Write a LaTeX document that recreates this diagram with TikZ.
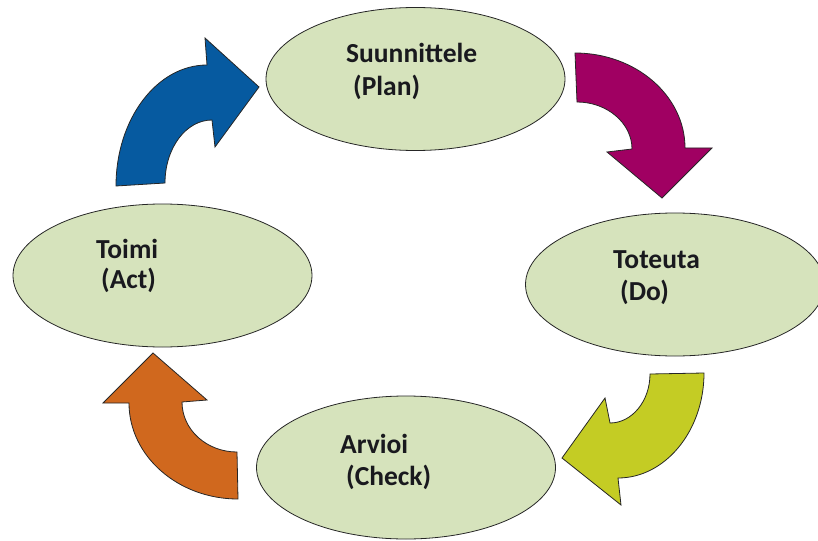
\documentclass[tikz,border=0pt]{standalone}
\usepackage{fontspec}
\setmainfont{Carlito}
\usetikzlibrary{shapes.geometric}
\definecolor{ellfill}{RGB}{214,227,188}
\definecolor{cblue}{RGB}{6,90,160}
\definecolor{cmag}{RGB}{160,0,98}
\definecolor{cyel}{RGB}{196,204,36}
\definecolor{corange}{RGB}{208,104,30}
\definecolor{txt}{RGB}{25,25,30}
\tikzset{
  ell/.style={ellipse, draw=black!85, line width=0.8pt, fill=ellfill, minimum width=299pt, minimum height=143pt, inner sep=0pt},
  lbl/.style={anchor=base west, inner sep=0pt, text=txt, font=\fontsize{27.5}{33}\selectfont\bfseries},
  barrow/.style={draw=black!85, line width=0.8pt, line join=miter}
}
\begin{document}
\begin{tikzpicture}[x=1pt,y=-1pt]
\useasboundingbox (0,0) rectangle (818,540);
% ellipses
\node[ell] (plan) at (415.5,79) {};
\node[ell] (do) at (675,284.5) {};
\node[ell] (check) at (406,467.5) {};
\node[ell] (act) at (162.5,275.5) {};
% labels
\node[lbl] (planA) at (346,63) {Suunnittele};
\node[lbl] (planB) at (353,96) {(Plan)};
\node[lbl] (doA) at (613,268) {Toteuta};
\node[lbl] (doB) at (620,300) {(Do)};
\node[lbl] (checkA) at (340,453) {Arvioi};
\node[lbl] (checkB) at (346,485) {(Check)};
\node[lbl] (actA) at (96,258) {Toimi};
\node[lbl] (actB) at (101,288) {(Act)};
% blue arrow (Act -> Plan)
\draw[barrow, fill=cblue] (116,186) .. controls (116,119) and (157,65) .. (207,65)
  -- (205,38) -- (259,87) -- (215,147) -- (212,120)
  .. controls (186,120) and (165,148) .. (165,183) -- cycle;
% magenta arrow (Plan -> Do)
\draw[barrow, fill=cmag] (575,53) .. controls (636,53) and (685,96) .. (685,148)
  -- (712,148) -- (662,198) -- (607,152) -- (632,149)
  .. controls (632,123) and (607,102) .. (577,102) -- cycle;
% yellow-green arrow (Do -> Check)
\draw[barrow, fill=cyel] (704,373) .. controls (704,431) and (665,478) .. (618,478)
  -- (621,505) -- (562,458) -- (605,398) -- (610,423)
  .. controls (632,423) and (650,401) .. (650,374) -- cycle;
% orange arrow (Check -> Act)
\draw[barrow, fill=corange] (238,499) .. controls (178,499) and (129,456) .. (129,403)
  -- (103,403) -- (153,353) -- (207,400) -- (182,402)
  .. controls (182,430) and (207,452) .. (237,452) -- cycle;
\end{tikzpicture}
\end{document}
